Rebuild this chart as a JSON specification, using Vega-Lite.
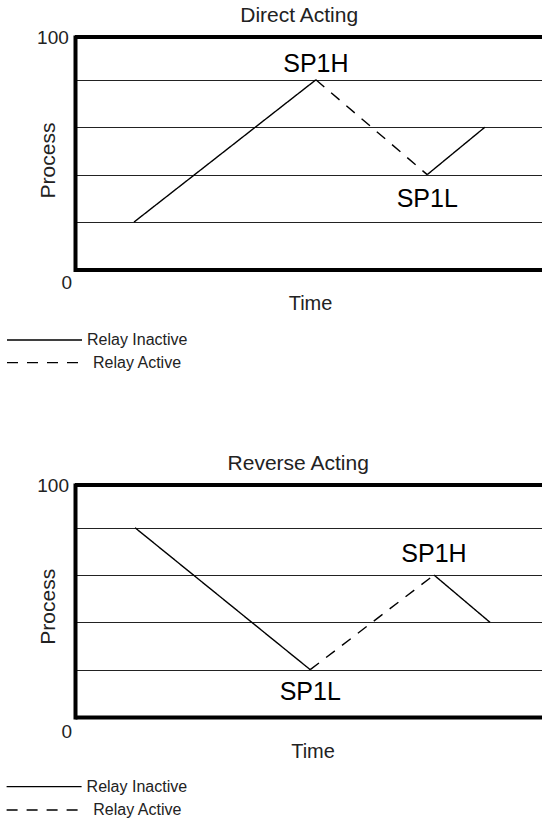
{
  "$schema": "https://vega.github.io/schema/vega-lite/v6.json",
  "background": "white",
  "padding": {"left": 5, "top": 5, "right": 0, "bottom": 0},
  "spacing": 82,
  "columns": 1,
  "align": "none",
  "center": true,
  "config": {
    "font": "Liberation Sans",
    "view": {"stroke": null},
    "title": {"font": "Liberation Sans", "fontSize": 21, "fontWeight": "normal", "color": "#222"}
  },
  "datasets": {
    "direct": [
      {"seg": "a", "relay": "Relay Inactive", "time": 12.55, "process": 20.4},
      {"seg": "a", "relay": "Relay Inactive", "time": 51.26, "process": 81.6},
      {"seg": "b", "relay": "Relay Active", "time": 51.26, "process": 81.6},
      {"seg": "b", "relay": "Relay Active", "time": 74.94, "process": 40.8},
      {"seg": "c", "relay": "Relay Inactive", "time": 74.94, "process": 40.8},
      {"seg": "c", "relay": "Relay Inactive", "time": 87.21, "process": 61.2}
    ],
    "directLabels": [
      {"label": "SP1H", "time": 51.26, "process": 81.6, "pos": "above"},
      {"label": "SP1L", "time": 74.94, "process": 40.8, "pos": "below"}
    ],
    "reverse": [
      {"seg": "a", "relay": "Relay Inactive", "time": 12.63, "process": 81.6},
      {"seg": "a", "relay": "Relay Inactive", "time": 49.52, "process": 20.4},
      {"seg": "b", "relay": "Relay Active", "time": 49.52, "process": 20.4},
      {"seg": "b", "relay": "Relay Active", "time": 75.58, "process": 61.2},
      {"seg": "c", "relay": "Relay Inactive", "time": 75.58, "process": 61.2},
      {"seg": "c", "relay": "Relay Inactive", "time": 87.37, "process": 40.8}
    ],
    "reverseLabels": [
      {"label": "SP1H", "time": 75.58, "process": 61.2, "pos": "above"},
      {"label": "SP1L", "time": 49.52, "process": 20.4, "pos": "below"}
    ]
  },
  "resolve": {
    "scale": {"x": "independent", "y": "independent", "strokeDash": "independent"},
    "legend": {"strokeDash": "independent"}
  },
  "concat": [
    {
      "width": 470,
      "height": 232.5,
      "title": {"text": "Direct Acting", "baseline": "alphabetic", "offset": -15, "dx": -10.8, "anchor": "middle"},
      "layer": [
        {
          "data": {"name": "direct"},
          "mark": {"type": "line", "color": "black", "strokeWidth": 1.4},
          "encoding": {
            "x": {"field": "time", "type": "quantitative", "scale": {"domain": [0, 100]},
              "axis": {"orient": "bottom", "title": "Time", "titleFont": "Liberation Sans", "titleFontSize": 20, "titleFontWeight": "normal", "titleColor": "#222", "titlePadding": 24, "labels": false, "ticks": false, "tickSize": 0, "grid": false, "domainColor": "black", "domainWidth": 4, "domainCap": "butt"}},
            "y": {"field": "process", "type": "quantitative", "scale": {"domain": [0, 100]},
              "axis": {"values": [0, 20.4, 40.8, 61.2, 81.6, 100], "labelExpr": "datum.value == 0 || datum.value == 100 ? datum.label : ''", "grid": true, "gridColor": "#222", "gridWidth": 1.2, "ticks": false, "tickSize": 0, "labelFont": "Liberation Sans", "labelFontSize": 19, "labelColor": "#222", "labelPadding": {"condition": {"test": "datum.value == 0", "value": 3.3}, "value": 6.7}, "labelOffset": {"condition": {"test": "datum.value == 0", "value": 13}, "value": 0}, "domainColor": "black", "domainWidth": 4, "domainCap": "square", "title": "Process", "titleFont": "Liberation Sans", "titleFontSize": 21, "titleFontWeight": "normal", "titleColor": "#222", "titleBaseline": "alphabetic", "titleX": -20.7, "titleY": 123}},
            "detail": {"field": "seg"},
            "strokeDash": {"field": "relay", "type": "nominal",
              "scale": {"domain": ["Relay Inactive", "Relay Active"], "range": [[1, 0], [11, 9]]},
              "legend": {"orient": "none", "legendX": -69, "legendY": 295, "title": null, "symbolType": "stroke", "symbolSize": 5625, "symbolStrokeWidth": 1.3, "symbolStrokeColor": "black", "clipHeight": 16, "rowPadding": 6.7, "labelFont": "Liberation Sans", "labelFontSize": 16, "labelColor": "#222", "labelOffset": 4, "padding": 0, "direction": "vertical",
                "encode": {"symbols": {"update": {"strokeDash": {"signal": "datum.value === 'Relay Active' ? [13.3, 11.7] : [1, 0]"}}}, "labels": {"update": {"dx": {"signal": "datum.value === 'Relay Active' ? 6 : 0"}}}}}}
          }
        },
        {
          "data": {"values": [{}]},
          "mark": {"type": "rule", "color": "black", "strokeWidth": 4},
          "encoding": {"y": {"datum": 100}}
        },
        {
          "data": {"name": "directLabels"},
          "transform": [{"filter": "datum.pos == 'above'"}],
          "mark": {"type": "text", "font": "Liberation Sans", "fontSize": 25, "color": "black", "baseline": "alphabetic", "align": "center", "dy": -7.7},
          "encoding": {"x": {"field": "time", "type": "quantitative"}, "y": {"field": "process", "type": "quantitative"}, "text": {"field": "label"}}
        },
        {
          "data": {"name": "directLabels"},
          "transform": [{"filter": "datum.pos == 'below'"}],
          "mark": {"type": "text", "font": "Liberation Sans", "fontSize": 25, "color": "black", "baseline": "alphabetic", "align": "center", "dy": 31.9},
          "encoding": {"x": {"field": "time", "type": "quantitative"}, "y": {"field": "process", "type": "quantitative"}, "text": {"field": "label"}}
        }
      ]
    },
    {
      "width": 475,
      "height": 232,
      "title": {"text": "Reverse Acting", "baseline": "alphabetic", "offset": -15, "dx": -14.3, "anchor": "middle"},
      "layer": [
        {
          "data": {"name": "reverse"},
          "mark": {"type": "line", "color": "black", "strokeWidth": 1.4},
          "encoding": {
            "x": {"field": "time", "type": "quantitative", "scale": {"domain": [0, 100]},
              "axis": {"orient": "bottom", "title": "Time", "titleFont": "Liberation Sans", "titleFontSize": 20, "titleFontWeight": "normal", "titleColor": "#222", "titlePadding": 24, "labels": false, "ticks": false, "tickSize": 0, "grid": false, "domainColor": "black", "domainWidth": 4, "domainCap": "butt"}},
            "y": {"field": "process", "type": "quantitative", "scale": {"domain": [0, 100]},
              "axis": {"values": [0, 20.4, 40.8, 61.2, 81.6, 100], "labelExpr": "datum.value == 0 || datum.value == 100 ? datum.label : ''", "grid": true, "gridColor": "#222", "gridWidth": 1.2, "ticks": false, "tickSize": 0, "labelFont": "Liberation Sans", "labelFontSize": 19, "labelColor": "#222", "labelPadding": {"condition": {"test": "datum.value == 0", "value": 3.3}, "value": 6.5}, "labelOffset": {"condition": {"test": "datum.value == 0", "value": 14.5}, "value": 0}, "domainColor": "black", "domainWidth": 4, "domainCap": "square", "title": "Process", "titleFont": "Liberation Sans", "titleFontSize": 21, "titleFontWeight": "normal", "titleColor": "#222", "titleBaseline": "alphabetic", "titleX": -20.7, "titleY": 121.3}},
            "detail": {"field": "seg"},
            "strokeDash": {"field": "relay", "type": "nominal",
              "scale": {"domain": ["Relay Inactive", "Relay Active"], "range": [[1, 0], [11, 9]]},
              "legend": {"orient": "none", "legendX": -69.4, "legendY": 293.7, "title": null, "symbolType": "stroke", "symbolSize": 5625, "symbolStrokeWidth": 1.3, "symbolStrokeColor": "black", "clipHeight": 16, "rowPadding": 7.3, "labelFont": "Liberation Sans", "labelFontSize": 16, "labelColor": "#222", "labelOffset": 4, "padding": 0, "direction": "vertical",
                "encode": {"symbols": {"update": {"strokeDash": {"signal": "datum.value === 'Relay Active' ? [13.3, 11.7] : [1, 0]"}}}, "labels": {"update": {"dx": {"signal": "datum.value === 'Relay Active' ? 6.7 : 0"}}}}}}
          }
        },
        {
          "data": {"values": [{}]},
          "mark": {"type": "rule", "color": "black", "strokeWidth": 4},
          "encoding": {"y": {"datum": 100}}
        },
        {
          "data": {"name": "reverseLabels"},
          "transform": [{"filter": "datum.pos == 'above'"}],
          "mark": {"type": "text", "font": "Liberation Sans", "fontSize": 25, "color": "black", "baseline": "alphabetic", "align": "center", "dy": -12.7},
          "encoding": {"x": {"field": "time", "type": "quantitative"}, "y": {"field": "process", "type": "quantitative"}, "text": {"field": "label"}}
        },
        {
          "data": {"name": "reverseLabels"},
          "transform": [{"filter": "datum.pos == 'below'"}],
          "mark": {"type": "text", "font": "Liberation Sans", "fontSize": 25, "color": "black", "baseline": "alphabetic", "align": "center", "dy": 30.2},
          "encoding": {"x": {"field": "time", "type": "quantitative"}, "y": {"field": "process", "type": "quantitative"}, "text": {"field": "label"}}
        }
      ]
    }
  ]
}
